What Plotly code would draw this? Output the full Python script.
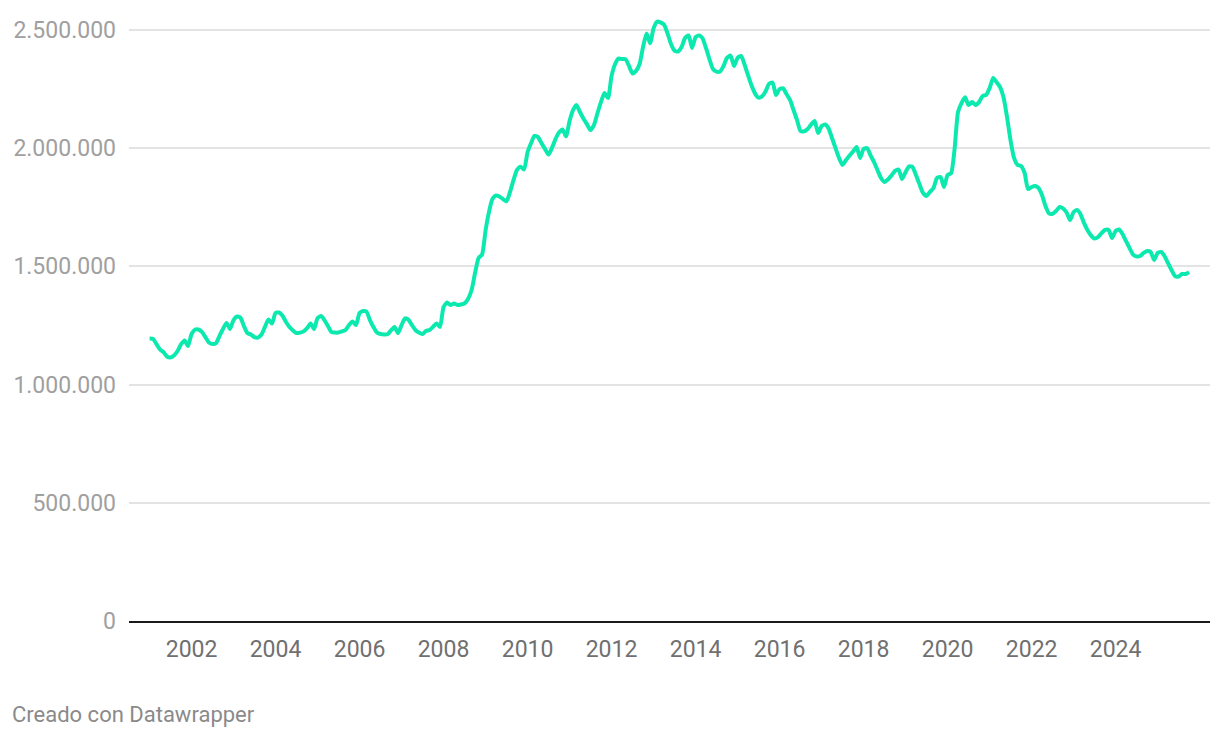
import pandas as pd
import plotly.graph_objects as go

# Monthly values (thousands), Jan 2001 - Oct 2025
y2001 = [1195, 1193, 1172, 1149, 1138, 1119, 1115, 1123, 1142, 1170, 1187, 1163]
y2002 = [1214, 1233, 1233, 1223, 1201, 1178, 1172, 1175, 1206, 1235, 1261, 1235]
y2003 = [1273, 1288, 1284, 1248, 1218, 1212, 1201, 1199, 1212, 1244, 1275, 1258]
y2004 = [1303, 1305, 1292, 1265, 1244, 1229, 1218, 1220, 1225, 1239, 1258, 1235]
y2005 = [1282, 1290, 1273, 1248, 1223, 1220, 1220, 1225, 1231, 1252, 1267, 1252]
y2006 = [1303, 1311, 1309, 1273, 1244, 1220, 1214, 1212, 1213, 1229, 1244, 1218]
y2007 = [1252, 1280, 1275, 1252, 1231, 1220, 1214, 1227, 1231, 1244, 1258, 1244]
y2008 = [1328, 1347, 1337, 1343, 1337, 1339, 1343, 1362, 1400, 1472, 1536, 1550]
y2009 = [1654, 1734, 1785, 1800, 1796, 1785, 1775, 1815, 1866, 1908, 1922, 1910]
y2010 = [1984, 2022, 2052, 2047, 2022, 1997, 1973, 2001, 2039, 2066, 2079, 2050]
y2011 = [2115, 2162, 2183, 2153, 2126, 2102, 2077, 2098, 2149, 2195, 2234, 2212]
y2012 = [2305, 2356, 2379, 2377, 2377, 2348, 2316, 2327, 2356, 2428, 2485, 2444]
y2013 = [2508, 2536, 2532, 2523, 2487, 2441, 2413, 2409, 2428, 2466, 2477, 2424]
y2014 = [2470, 2477, 2466, 2424, 2377, 2335, 2324, 2324, 2348, 2382, 2392, 2348]
y2015 = [2382, 2390, 2356, 2310, 2267, 2232, 2214, 2219, 2240, 2272, 2278, 2225]
y2016 = [2250, 2253, 2229, 2204, 2162, 2119, 2073, 2071, 2081, 2100, 2115, 2064]
y2017 = [2094, 2100, 2085, 2043, 2001, 1959, 1929, 1950, 1969, 1986, 2005, 1959]
y2018 = [1997, 2000, 1971, 1942, 1908, 1874, 1857, 1868, 1885, 1904, 1910, 1870]
y2019 = [1899, 1923, 1921, 1887, 1849, 1811, 1798, 1815, 1832, 1874, 1878, 1836]
y2020 = [1887, 1895, 1992, 2153, 2191, 2215, 2183, 2195, 2183, 2195, 2221, 2225]
y2021 = [2255, 2297, 2280, 2259, 2217, 2132, 2035, 1959, 1929, 1925, 1895, 1827]
y2022 = [1836, 1840, 1832, 1802, 1756, 1724, 1722, 1734, 1751, 1745, 1728, 1696]
y2023 = [1730, 1739, 1722, 1684, 1654, 1631, 1618, 1624, 1641, 1654, 1654, 1620]
y2024 = [1650, 1656, 1637, 1607, 1578, 1550, 1542, 1544, 1557, 1565, 1561, 1527]
y2025 = [1557, 1561, 1544, 1514, 1485, 1459, 1457, 1468, 1468, 1476]

yearly = [y2001, y2002, y2003, y2004, y2005, y2006, y2007, y2008, y2009, y2010,
          y2011, y2012, y2013, y2014, y2015, y2016, y2017, y2018, y2019, y2020,
          y2021, y2022, y2023, y2024, y2025]
values = [v * 1000 for yr in yearly for v in yr]
dates = pd.date_range("2001-01-01", periods=len(values), freq="MS")

y_ticks = [0, 500000, 1000000, 1500000, 2000000, 2500000]
x_tick_years = list(range(2002, 2025, 2))

fig = go.Figure()
fig.add_trace(go.Scatter(
    x=dates, y=values, mode="lines",
    line=dict(color="#0ce9ae", width=4, shape="spline", smoothing=0.6),
    hoverinfo="skip",
))

fig.update_layout(
    width=1212, height=730,
    margin=dict(l=121, r=10, t=2, b=117),
    paper_bgcolor="white", plot_bgcolor="white",
    font=dict(family="Roboto", size=20, color="#999999"),
    separators=",.",
    showlegend=False,
    xaxis=dict(
        type="date",
        range=["2000-07-06", "2026-04-01"],
        tickvals=[pd.Timestamp(f"{y}-01-01") for y in x_tick_years],
        ticktext=[str(y) for y in x_tick_years],
        tickfont=dict(family="Roboto", size=23, color="#707070"),
        showgrid=False, zeroline=False,
        showline=True, linecolor="#1a1a1a", linewidth=2,
        ticks="", ticklabelstandoff=6,
    ),
    yaxis=dict(
        range=[0, 2584600],
        tickvals=y_ticks,
        tickformat=",d",
        tickfont=dict(family="Roboto", size=23, color="#a0a0a0"),
        showgrid=True, gridcolor="#e3e3e3", gridwidth=1.5,
        zeroline=False, showline=False, ticks="",
        ticklabelstandoff=12,
    ),
    annotations=[dict(
        text="Creado con Datawrapper",
        xref="paper", yref="paper", x=0, y=0,
        xanchor="left", yanchor="middle",
        xshift=-119, yshift=-93, showarrow=False,
        font=dict(family="Roboto", size=22, color="#8a8a8a"),
    )],
)

fig.write_html("out.html")
